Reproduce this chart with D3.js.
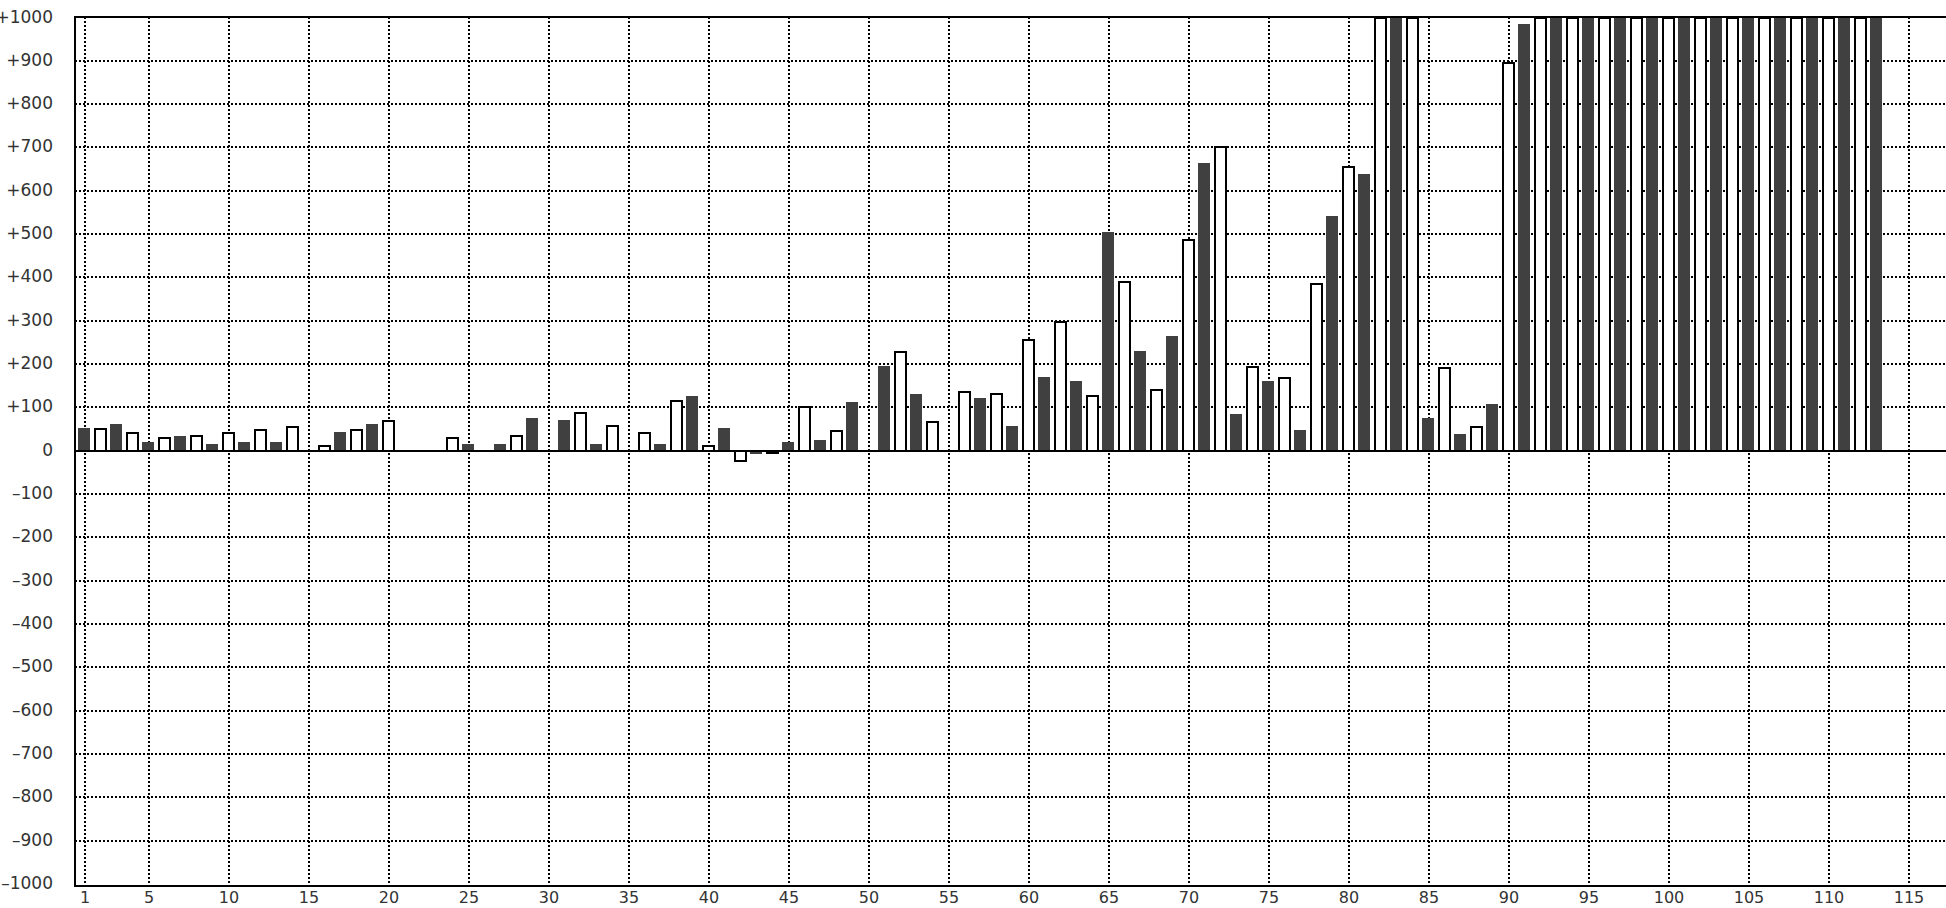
<!DOCTYPE html>
<html><head><meta charset="utf-8">
<script src="https://cdn.jsdelivr.net/npm/d3@7"></script>
<style>html,body{margin:0;padding:0;background:#fff;overflow:hidden}</style>
</head><body><svg id="c" width="1946" height="908"></svg>
<script>
// ---- data ----
const darkCategories = [1,3,5,7,9,11,13,15,17,19,21,23,25,27,29,31,33,35,37,39,41,43,45,47,49,51,53,55,57,59,61,63,65,67,69,71,73,75,77,79,81,83,85,87,89,91,93,95,97,99,101,103,105,107,109,111,113];
const darkValues = [52,62,20,34,15,20,20,0,43,62,0,0,15,15,75,70,15,0,15,126,52,-8,20,25,112,195,130,0,121,56,171,162,504,231,264,665,84,162,48,541,638,1000,75,38,108,985,1000,1000,1000,1000,1000,1000,1000,1000,1000,1000,1000];
const lightCategories = [2,4,6,8,10,12,14,16,18,20,22,24,26,28,30,32,34,36,38,40,42,44,46,48,50,52,54,56,58,60,62,64,66,68,70,72,74,76,78,80,82,84,86,88,90,92,94,96,98,100,102,104,106,108,110,112];
const lightValues = [50,40,30,35,40,49,54,12,49,68,0,30,0,35,0,86,58,40,114,12,-23,-5,100,45,0,228,67,135,131,256,297,127,390,140,486,700,193,168,385,654,1000,1000,192,54,895,1000,1000,1000,1000,1000,1000,1000,1000,1000,1000,1000];
const xTickValues = [1,5,10,15,20,25,30,35,40,45,50,55,60,65,70,75,80,85,90,95,100,105,110,115];
const yTickValues = [-1000,-900,-800,-700,-600,-500,-400,-300,-200,-100,0,100,200,300,400,500,600,700,800,900,1000];

// ---- layout ----
const pLeft = 75, pTop = 17, pBottom = 886, pRight = 1990;
const x = d3.scaleLinear().domain([1, 115]).range([85, 1909]);
const y = d3.scaleLinear().domain([-1000, 1000]).range([884, 17.5]);
const fmt = d => d > 0 ? "+" + d : (d < 0 ? "\u2013" + (-d) : "0");

const svg = d3.select("#c");
svg.append("defs").append("clipPath").attr("id", "clip")
  .append("rect").attr("x", pLeft).attr("y", pTop).attr("width", pRight - pLeft).attr("height", pBottom - pTop);

// gridlines
const grid = svg.append("g").attr("stroke", "#000").attr("stroke-width", 2)
  .attr("stroke-dasharray", "2,2").attr("shape-rendering", "crispEdges");
grid.selectAll("line.h").data(yTickValues.filter(d => d !== 0 && Math.abs(d) !== 1000)).join("line")
  .attr("class", "h").attr("x1", pLeft).attr("x2", pRight)
  .attr("y1", d => Math.round(y(d))).attr("y2", d => Math.round(y(d)));
grid.selectAll("line.v").data(xTickValues).join("line")
  .attr("class", "v").attr("y1", pTop).attr("y2", pBottom)
  .attr("x1", d => Math.round(x(d))).attr("x2", d => Math.round(x(d)));

// bars
const bars = svg.append("g").attr("clip-path", "url(#clip)").attr("shape-rendering", "crispEdges");
const dark = darkCategories.map((c, i) => ({c, v: darkValues[i]})).filter(d => d.v !== 0);
const light = lightCategories.map((c, i) => ({c, v: lightValues[i]})).filter(d => d.v !== 0);
bars.selectAll("rect.dark").data(dark).join("rect").attr("class", "dark")
  .attr("x", d => Math.round(x(d.c)) - 7).attr("width", 12)
  .attr("y", d => Math.min(y(d.v), y(0))).attr("height", d => Math.abs(y(d.v) - y(0)))
  .attr("fill", "#404040");
bars.selectAll("rect.light").data(light).join("rect").attr("class", "light")
  .attr("x", d => Math.round(x(d.c)) - 6).attr("width", 11)
  .attr("y", d => Math.min(y(d.v), y(0))).attr("height", d => Math.abs(y(d.v) - y(0)))
  .attr("fill", "#fff").attr("stroke", "#000").attr("stroke-width", 2);

// zero line and frame
const frame = svg.append("g").attr("stroke", "#000").attr("stroke-width", 2).attr("shape-rendering", "crispEdges");
frame.append("line").attr("x1", pLeft).attr("x2", pRight).attr("y1", Math.round(y(0))).attr("y2", Math.round(y(0)));
frame.append("line").attr("x1", pLeft).attr("x2", pRight).attr("y1", pTop).attr("y2", pTop);
frame.append("line").attr("x1", pLeft).attr("x2", pRight).attr("y1", pBottom).attr("y2", pBottom);
frame.append("line").attr("x1", pLeft).attr("x2", pLeft).attr("y1", pTop - 1).attr("y2", pBottom + 1);

// y tick labels
svg.append("g").attr("font-family", "DejaVu Sans, sans-serif").attr("font-size", 17).attr("fill", "#333")
  .attr("text-anchor", "end")
  .selectAll("text").data(yTickValues).join("text")
  .attr("x", 53).attr("y", d => y(d) + 5).text(fmt);

// x tick labels
svg.append("g").attr("font-family", "DejaVu Sans, sans-serif").attr("font-size", 16).attr("fill", "#333")
  .attr("text-anchor", "middle")
  .selectAll("text").data(xTickValues).join("text")
  .attr("x", d => x(d)).attr("y", 903).text(d => d);
</script>
</body></html>
